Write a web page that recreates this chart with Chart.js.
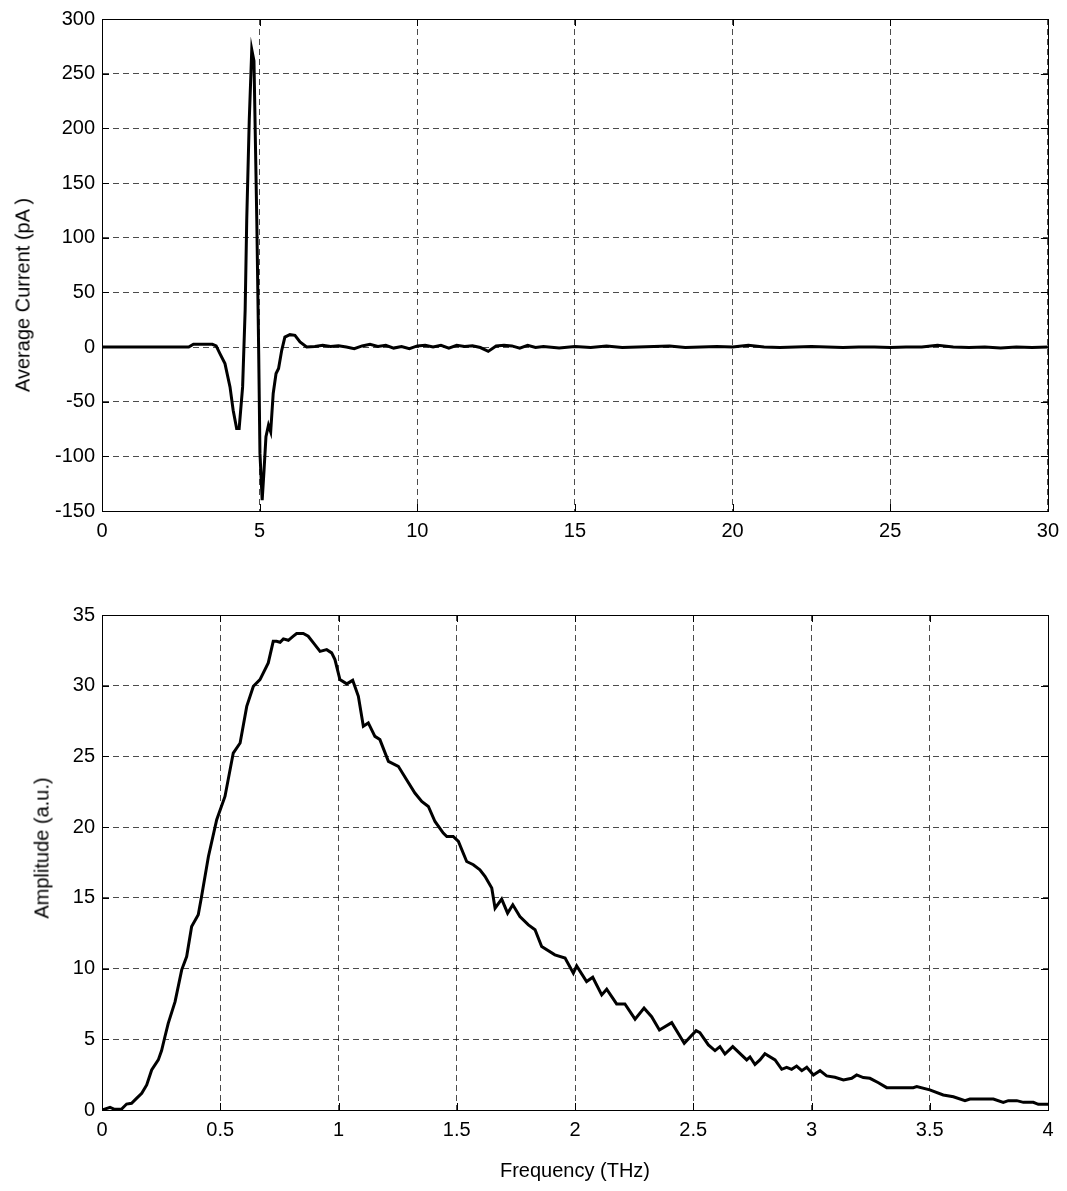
<!DOCTYPE html>
<html>
<head>
<meta charset="utf-8">
<script src="https://cdn.jsdelivr.net/npm/chart.js@4/dist/chart.umd.min.js"></script>
<style>
  body { margin: 0; background: #fff; }
  #page { position: relative; width: 1067px; height: 1191px; background: #fff; font-family: "Liberation Sans", Arial, sans-serif; }
  canvas { position: absolute; left: 0; }
  .ylabel { position: absolute; font-size: 20px; color: #000; white-space: nowrap; transform: translate(-50%, -50%) rotate(-90deg); }
</style>
</head>
<body>
<div id="page">
  <canvas id="pulseChart" width="1067" height="580" style="top:0"></canvas>
  <canvas id="spectrumChart" width="1067" height="606" style="top:585px"></canvas>
  <div class="ylabel" style="left:23px; top:295px">Average Current (pA )</div>
  <div class="ylabel" style="left:42px; top:848px">Amplitude (a.u.)</div>
</div>
<script>
// time trace (ps) and current (pA)
const pulseTime = [
  0, 1.0, 2.0, 2.75, 2.9, 3.2, 3.5, 3.62, 3.74, 3.9,
  4.06, 4.16, 4.27, 4.35, 4.46, 4.54, 4.59, 4.67, 4.75, 4.82,
  4.91, 4.97, 5.01, 5.08, 5.14, 5.2, 5.28, 5.35, 5.43, 5.52,
  5.6, 5.7, 5.8, 5.96, 6.12, 6.28, 6.49,
  6.75, 7, 7.25, 7.5, 7.75, 8, 8.25, 8.5, 8.75, 9,
  9.25, 9.5, 9.75, 10, 10.25, 10.5, 10.75, 11, 11.25, 11.5,
  11.75, 12, 12.25, 12.5, 12.75, 13, 13.25, 13.5, 13.75, 14,
  14.5, 15, 15.5, 16, 16.5, 17, 17.5, 18, 18.5, 19,
  19.5, 20, 20.5, 21, 21.5, 22, 22.5, 23, 23.5, 24,
  24.5, 25, 25.5, 26, 26.5, 27, 27.5, 28, 28.5, 29,
  29.5, 30
];
const pulseCurrent = [
  0, 0, 0, 0, 2.5, 2.5, 2.5, 1, -6, -15.2,
  -36.5, -57.8, -74.5, -74.5, -36.5, 33.5, 115.6, 207, 272, 261.7,
  115.6, -6, -97.3, -140, -112.5, -82, -71.5, -77.6, -42.5, -24.3,
  -19.7, -3, 9.1, 11.3, 10.7, 4.6, 0,
  0.5, 1.5, 0.5, 1.2, 0, -1.5, 1.0, 2.5, 0.5, 1.5,
  -1.0, 0.5, -1.5, 1.0, 1.5, 0, 1.5, -1.0, 1.5, 0.5,
  1.2, -0.5, -4.0, 1.0, 1.5, 1.0, -1.0, 1.5, -0.5, 0.5,
  -1.0, 0.5, -0.5, 1.0, -0.5, 0, 0.5, 1.0, -0.5, 0,
  0.5, 0, 1.5, 0, -0.5, 0, 0.5, 0, -0.5, 0,
  0, -0.5, 0, 0, 1.5, 0, -0.5, 0, -1.0, 0,
  -0.5, 0
];

// spectrum: frequency (THz) and amplitude (a.u.)
const freq = [
  0, 0.034, 0.053, 0.083, 0.104, 0.125, 0.146, 0.168, 0.189, 0.21,
  0.238, 0.252, 0.266, 0.28, 0.309, 0.337, 0.358, 0.379, 0.407, 0.421,
  0.45, 0.485, 0.52, 0.555, 0.584, 0.612, 0.64, 0.668, 0.703, 0.724,
  0.738, 0.753, 0.767, 0.788, 0.809, 0.823, 0.851, 0.872, 0.894, 0.922,
  0.95, 0.971, 0.985, 1.006, 1.035, 1.06, 1.084, 1.105, 1.126, 1.154,
  1.175, 1.211, 1.253, 1.288, 1.323, 1.352, 1.38, 1.408, 1.443, 1.458,
  1.485, 1.507, 1.542, 1.57, 1.598, 1.62, 1.648, 1.662, 1.69, 1.715,
  1.737, 1.767, 1.803, 1.831, 1.859, 1.915, 1.958, 1.993, 2.007, 2.049,
  2.075, 2.113, 2.134, 2.176, 2.211, 2.254, 2.292, 2.324, 2.357, 2.409,
  2.462, 2.512, 2.528, 2.564, 2.592, 2.613, 2.634, 2.667, 2.726, 2.74,
  2.761, 2.782, 2.803, 2.846, 2.874, 2.895, 2.916, 2.937, 2.959, 2.98,
  3.008, 3.036, 3.064, 3.099, 3.135, 3.17, 3.191, 3.219, 3.247, 3.283,
  3.318, 3.36, 3.43, 3.445, 3.5, 3.557, 3.6, 3.649, 3.67, 3.769,
  3.811, 3.832, 3.868, 3.896, 3.938, 3.959, 4.0
];
const amp = [
  0, 0.19, 0.05, 0.07, 0.42, 0.47, 0.82, 1.18, 1.77, 2.83,
  3.54, 4.2, 5.18, 6.13, 7.66, 9.91, 10.85, 12.97, 13.8, 15.1,
  17.93, 20.52, 22.17, 25.24, 25.95, 28.54, 29.96, 30.43, 31.61, 33.14,
  33.14, 33.07, 33.31, 33.21, 33.5, 33.69, 33.69, 33.5, 33.03, 32.43,
  32.55, 32.32, 31.85, 30.43, 30.13, 30.38, 29.25, 27.13, 27.37, 26.42,
  26.19, 24.65, 24.3, 23.35, 22.41, 21.82, 21.46, 20.4, 19.58, 19.34,
  19.34, 18.99, 17.57, 17.34, 16.99, 16.51, 15.69, 14.27, 14.91, 13.92,
  14.51, 13.68, 13.09, 12.74, 11.56, 10.97, 10.74, 9.67, 10.19, 9.08,
  9.39, 8.14, 8.54, 7.5, 7.5, 6.42, 7.2, 6.6, 5.66, 6.18,
  4.72, 5.61, 5.47, 4.6, 4.2, 4.48, 3.96, 4.48, 3.54, 3.75,
  3.22, 3.54, 3.98, 3.54, 2.88, 3.02, 2.88, 3.11, 2.78, 3.02,
  2.48, 2.78, 2.41, 2.31, 2.12, 2.24, 2.48, 2.29, 2.24, 1.93,
  1.58, 1.58, 1.58, 1.65, 1.42, 1.06, 0.94, 0.66, 0.78, 0.78,
  0.54, 0.66, 0.66, 0.54, 0.54, 0.4, 0.4
];

const FONT = { family: '"Liberation Sans", Arial, sans-serif', size: 20 };

// black frame round the plot area plus short inward ticks (matlab box on)
const frameBox = {
  id: 'frameBox',
  afterDraw(chart) {
    const { ctx, chartArea: a, scales } = chart;
    ctx.save();
    ctx.strokeStyle = '#000';
    ctx.lineWidth = 1;
    ctx.setLineDash([]);
    ctx.beginPath();
    scales.x.ticks.forEach(t => {
      const px = Math.round(scales.x.getPixelForValue(t.value)) + 0.5;
      ctx.moveTo(px, a.bottom); ctx.lineTo(px, a.bottom - 7);
      ctx.moveTo(px, a.top); ctx.lineTo(px, a.top + 7);
    });
    scales.y.ticks.forEach(t => {
      const py = Math.round(scales.y.getPixelForValue(t.value)) + 0.5;
      ctx.moveTo(a.left, py); ctx.lineTo(a.left + 7, py);
      ctx.moveTo(a.right, py); ctx.lineTo(a.right - 7, py);
    });
    ctx.stroke();
    ctx.strokeRect(Math.round(a.left) + 0.5, Math.round(a.top) + 0.5,
                   Math.round(a.right - a.left), Math.round(a.bottom - a.top));
    ctx.restore();
  }
};

function makeChart(id, xs, ys, opts) {
  const ctx = document.getElementById(id).getContext('2d');
  return new Chart(ctx, {
    type: 'line',
    data: {
      datasets: [{
        data: xs.map((x, i) => ({ x: x, y: ys[i] })),
        borderColor: '#000',
        borderWidth: 3,
        pointRadius: 0,
        tension: 0,
        fill: false
      }]
    },
    options: {
      responsive: false,
      animation: false,
      layout: { padding: { top: opts.padTop, right: 19, left: 0, bottom: 0 } },
      plugins: { legend: { display: false }, tooltip: { enabled: false } },
      scales: {
        x: {
          type: 'linear',
          min: opts.xMin, max: opts.xMax,
          afterFit: s => { s.height = opts.xHeight; },
          ticks: {
            stepSize: opts.xStep, color: '#000', font: FONT, padding: 8,
            maxRotation: 0, autoSkip: false,
            callback: v => String(+v.toFixed(2))
          },
          grid: { color: 'rgba(0,0,0,0.7)', lineWidth: 1, drawTicks: false },
          border: { display: true, color: '#000', dash: [6, 4] },
          title: opts.xTitle ? {
            display: true, text: opts.xTitle, color: '#000', font: FONT,
            padding: { top: 0, bottom: 8 }
          } : { display: false }
        },
        y: {
          min: opts.yMin, max: opts.yMax,
          afterFit: s => { s.width = 102; },
          ticks: {
            stepSize: opts.yStep, color: '#000', font: FONT, padding: 7,
            callback: v => String(v)
          },
          grid: { color: 'rgba(0,0,0,0.7)', lineWidth: 1, drawTicks: false },
          border: { display: true, color: '#000', dash: [6, 4] }
        }
      }
    },
    plugins: [frameBox]
  });
}

makeChart('pulseChart', pulseTime, pulseCurrent, {
  padTop: 18, xHeight: 69,
  xMin: 0, xMax: 30, xStep: 5,
  yMin: -150, yMax: 300, yStep: 50
});

makeChart('spectrumChart', freq, amp, {
  padTop: 30, xHeight: 81,
  xMin: 0, xMax: 4, xStep: 0.5,
  yMin: 0, yMax: 35, yStep: 5,
  xTitle: 'Frequency (THz)'
});
</script>
</body>
</html>
